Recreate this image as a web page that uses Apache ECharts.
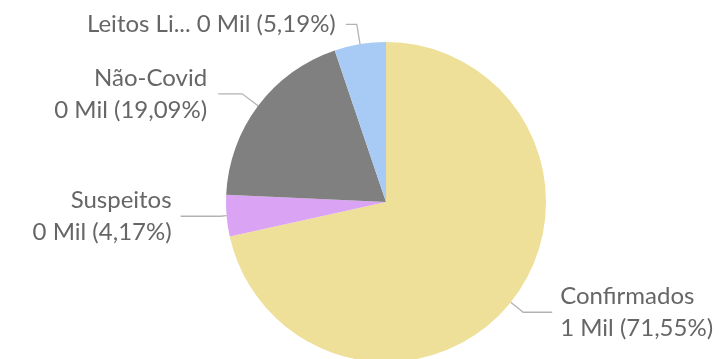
<!DOCTYPE html>
<html>
<head>
<meta charset="utf-8">
<script src="https://cdn.jsdelivr.net/npm/echarts@6/dist/echarts.min.js"></script>
<style>
  html, body { margin: 0; padding: 0; background: #ffffff; }
  #chart { width: 719px; height: 359px; }
</style>
</head>
<body>
<div id="chart"></div>
<script>
// Bed occupancy by category (counts)
const categories = ['Confirmados', 'Suspeitos', 'Não-Covid', 'Leitos Livres'];
const values = [772, 45, 206, 56];
const colors = ['#EEDF99', '#DAA3F3', '#808080', '#A8CBF5'];

const total = values.reduce((a, b) => a + b, 0);

function shortName(name) {
  return name.length > 11 ? name.slice(0, 9) + '...' : name;
}

function labelText(p) {
  const mil = Math.round(p.value / 1000) + ' Mil';
  const pct = (p.value / total * 100).toFixed(2).replace('.', ',') + '%';
  const nm = shortName(p.name);
  const sep = nm !== p.name ? ' ' : '\n';
  return nm + sep + mil + ' (' + pct + ')';
}

// per-slice label line: [radial length, horizontal length, gap to text]
const lineLens = [
  [16, 29, 8],
  [6, 40, 9],
  [20, 24, 11],
  [20, 11, 10]
];

const chart = echarts.init(document.getElementById('chart'), null, { renderer: 'canvas' });
chart.setOption({
  animation: false,
  series: [{
    type: 'pie',
    center: [386, 202],
    radius: [0, 160],
    startAngle: 90,
    clockwise: true,
    avoidLabelOverlap: false,
    label: {
      show: true,
      formatter: labelText,
      fontFamily: 'Lato',
      fontSize: 24,
      lineHeight: 32,
      color: '#666666'
    },
    labelLine: {
      show: true,
      lineStyle: { color: '#b3b3b3', width: 1.3 }
    },
    itemStyle: { borderWidth: 0 },
    data: categories.map((c, i) => ({
      name: c,
      value: values[i],
      itemStyle: { color: colors[i] },
      label: { distanceToLabelLine: lineLens[i][2] },
      labelLine: { length: lineLens[i][0], length2: lineLens[i][1] }
    }))
  }]
});
</script>
</body>
</html>
